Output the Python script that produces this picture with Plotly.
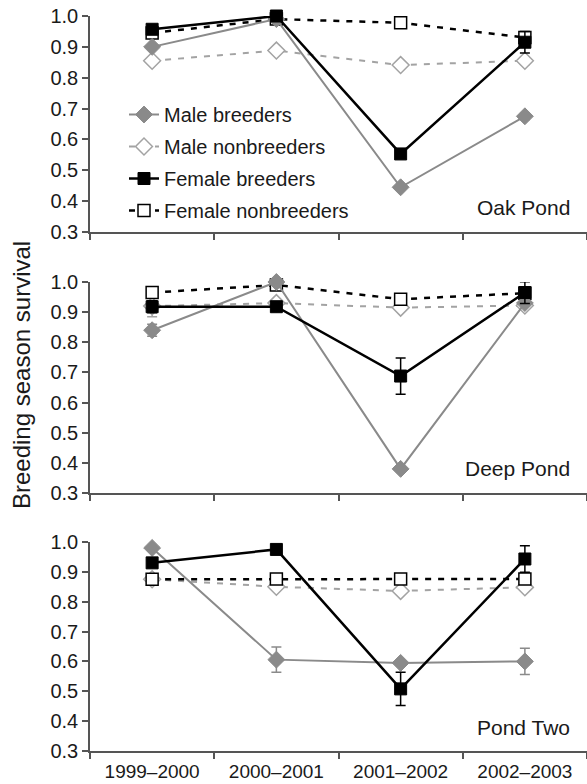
import plotly.graph_objects as go

years = ["1999–2000", "2000–2001", "2001–2002", "2002–2003"]
ponds = ["Oak Pond", "Deep Pond", "Pond Two"]
series_names = ["Male breeders", "Male nonbreeders", "Female breeders", "Female nonbreeders"]

# Oak Pond
oak_male_breeders = [0.90, 0.99, 0.445, 0.675]
oak_male_breeders_err = [0.0, 0.0, 0.0, 0.01]
oak_male_nonbreeders = [0.855, 0.888, 0.841, 0.855]
oak_male_nonbreeders_err = [0.0, 0.0, 0.0, 0.012]
oak_female_breeders = [0.957, 1.0, 0.553, 0.915]
oak_female_breeders_err = [0.01, 0.0, 0.0, 0.035]
oak_female_nonbreeders = [0.945, 0.99, 0.978, 0.93]
oak_female_nonbreeders_err = [0.0, 0.0, 0.0, 0.0]

# Deep Pond
deep_male_breeders = [0.84, 1.0, 0.38, 0.93]
deep_male_breeders_err = [0.02, 0.0, 0.0, 0.0]
deep_male_nonbreeders = [0.92, 0.93, 0.915, 0.922]
deep_male_nonbreeders_err = [0.035, 0.01, 0.0, 0.0]
deep_female_breeders = [0.918, 0.918, 0.688, 0.965]
deep_female_breeders_err = [0.02, 0.0, 0.06, 0.036]
deep_female_nonbreeders = [0.965, 0.99, 0.943, 0.963]
deep_female_nonbreeders_err = [0.0, 0.0, 0.0, 0.0]

# Pond Two
two_male_breeders = [0.98, 0.606, 0.595, 0.60]
two_male_breeders_err = [0.0, 0.042, 0.0, 0.044]
two_male_nonbreeders = [0.875, 0.85, 0.836, 0.848]
two_male_nonbreeders_err = [0.0, 0.0, 0.0, 0.0]
two_female_breeders = [0.93, 0.975, 0.508, 0.943]
two_female_breeders_err = [0.0, 0.0, 0.056, 0.044]
two_female_nonbreeders = [0.875, 0.876, 0.876, 0.876]
two_female_nonbreeders_err = [0.0, 0.0, 0.0, 0.0]

y_ticks = [0.3, 0.4, 0.5, 0.6, 0.7, 0.8, 0.9, 1.0]

panel_data = [
    (oak_male_breeders, oak_male_breeders_err, oak_male_nonbreeders, oak_male_nonbreeders_err,
     oak_female_breeders, oak_female_breeders_err, oak_female_nonbreeders, oak_female_nonbreeders_err),
    (deep_male_breeders, deep_male_breeders_err, deep_male_nonbreeders, deep_male_nonbreeders_err,
     deep_female_breeders, deep_female_breeders_err, deep_female_nonbreeders, deep_female_nonbreeders_err),
    (two_male_breeders, two_male_breeders_err, two_male_nonbreeders, two_male_nonbreeders_err,
     two_female_breeders, two_female_breeders_err, two_female_nonbreeders, two_female_nonbreeders_err),
]

GRAY = "#8a8a8a"
LGRAY = "#a3a3a3"
BLACK = "#000000"
FONT = "Arial, Liberation Sans, sans-serif"
TXT = "#1a1a1a"

styles = {
    "Male breeders": dict(line=dict(color=GRAY, width=2),
                          marker=dict(symbol="diamond", size=13, color=GRAY, line=dict(color=GRAY, width=1)),
                          ecolor=GRAY, rank=1),
    "Male nonbreeders": dict(line=dict(color=LGRAY, width=2, dash="6px,7px"),
                             marker=dict(symbol="diamond", size=13, color="white", line=dict(color=LGRAY, width=1.5)),
                             ecolor=LGRAY, rank=2),
    "Female breeders": dict(line=dict(color=BLACK, width=2.5),
                            marker=dict(symbol="square", size=12, color=BLACK, line=dict(color=BLACK, width=1)),
                            ecolor=BLACK, rank=3),
    "Female nonbreeders": dict(line=dict(color=BLACK, width=2.5, dash="6px,7px"),
                               marker=dict(symbol="square", size=12, color="white", line=dict(color=BLACK, width=1.5)),
                               ecolor=BLACK, rank=4),
}

draw_order = ["Male nonbreeders", "Female nonbreeders", "Male breeders", "Female breeders"]

fig = go.Figure()
for p, data in enumerate(panel_data):
    vals = {
        "Male breeders": (data[0], data[1]),
        "Male nonbreeders": (data[2], data[3]),
        "Female breeders": (data[4], data[5]),
        "Female nonbreeders": (data[6], data[7]),
    }
    ax = "" if p == 0 else str(p + 1)
    for name in draw_order:
        y, e = vals[name]
        st = styles[name]
        fig.add_trace(go.Scatter(
            x=years, y=y, name=name, mode="lines+markers",
            line=st["line"], marker=st["marker"],
            error_y=dict(type="data", array=e, visible=True, color=st["ecolor"], thickness=1.5, width=5),
            xaxis="x" + ax, yaxis="y" + ax,
            legendgroup=name, legendrank=st["rank"], showlegend=(p == 0),
            cliponaxis=False,
        ))

domains = [[0.7061, 1.0], [0.351, 0.6381], [0.0, 0.2844]]
axis_common_y = dict(range=[0.3, 1.0], tickvals=y_ticks, tickformat=".1f", ticks="outside", ticklen=6,
                     tickwidth=1.5, tickcolor="#555", showline=True, linecolor="#555", linewidth=1.5,
                     showgrid=False, zeroline=False, tickfont=dict(family=FONT, size=20, color=TXT))
axis_common_x = dict(type="category", tickson="boundaries", ticks="outside", ticklen=6, tickwidth=1.5,
                     tickcolor="#555", showline=True, linecolor="#555", linewidth=1.5, showgrid=False,
                     range=[-0.5, 3.5], ticklabelstandoff=2, tickfont=dict(family=FONT, size=19, color=TXT))

layout = dict(
    width=587, height=784,
    margin=dict(l=90, r=0, t=16, b=33),
    plot_bgcolor="white", paper_bgcolor="white",
    font=dict(family=FONT, size=19, color=TXT),
    legend=dict(x=(124 - 90) / 497, y=(751 - 95) / 735, xanchor="left", yanchor="top",
                bgcolor="rgba(0,0,0,0)", font=dict(family=FONT, size=20, color=TXT),
                tracegroupgap=3, itemwidth=30),
)
for p in range(3):
    ax = "" if p == 0 else str(p + 1)
    layout["yaxis" + ax] = dict(domain=domains[p], anchor="x" + ax, **axis_common_y)
    layout["xaxis" + ax] = dict(anchor="y" + ax, showticklabels=(p == 2), **axis_common_x)

fig.update_layout(**layout)

for p, pond in enumerate(ponds):
    ax = "" if p == 0 else str(p + 1)
    fig.add_annotation(text=pond, xref="paper", yref="y" + ax, x=(572 - 90) / 497, y=0.38,
                       xanchor="right", yanchor="middle", showarrow=False,
                       font=dict(family=FONT, size=21, color=TXT))

fig.add_annotation(text="Breeding season survival", xref="paper", yref="paper",
                   x=(21 - 90) / 497, y=(751 - 375) / 735, xanchor="center", yanchor="middle",
                   textangle=-90, showarrow=False, font=dict(family=FONT, size=24, color=TXT))

fig.write_html("out.html")
